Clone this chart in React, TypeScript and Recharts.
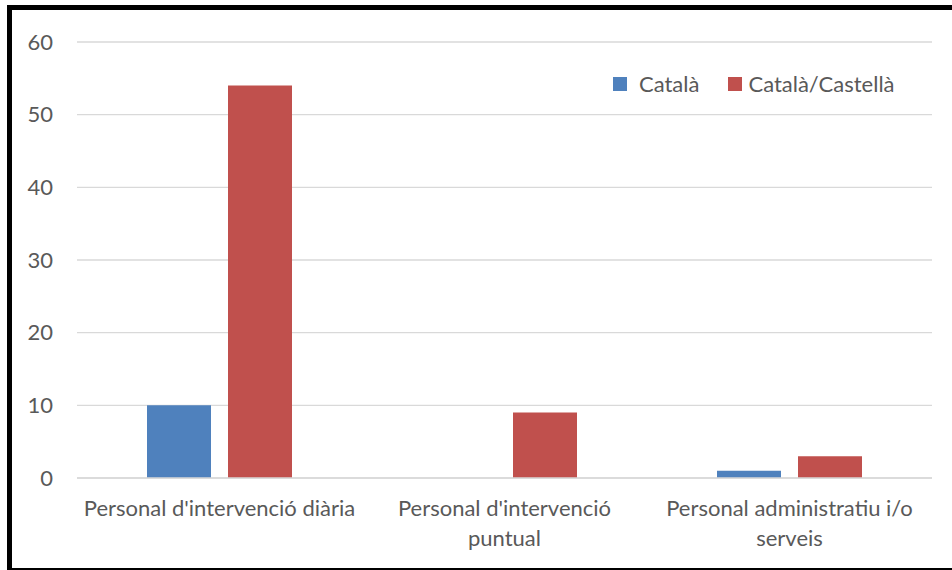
import React from "react";
import { BarChart, Bar, XAxis, YAxis, CartesianGrid } from "recharts";

/* ── Data ───────────────────────────────────────────────────────── */
const categories = [
  "Personal d'intervenció diària",
  "Personal d'intervenció puntual",
  "Personal administratiu i/o serveis",
];
const catala = [10, 0, 1];
const catalaCastella = [54, 9, 3];
const yTicks = [0, 10, 20, 30, 40, 50, 60];

const series = [
  { key: "catala", name: "Català", color: "#4F81BD" },
  { key: "catalaCastella", name: "Català/Castellà", color: "#C0504D" },
];

const data = categories.map((name, i) => ({
  name,
  catala: catala[i],
  catalaCastella: catalaCastella[i],
}));

/* ── Styles ─────────────────────────────────────────────────────── */
const FONT = "Lato, 'Open Sans', sans-serif";
const TEXT = "#595959";
const GRID = "#D9D9D9";
const FS = 22;
const MAX_CHARS = 29; // roughly what fits in one category band

function wrap(label: string) {
  const lines: string[] = [];
  let cur = "";
  for (const w of label.split(" ")) {
    const next = cur ? `${cur} ${w}` : w;
    if (cur && next.length > MAX_CHARS) {
      lines.push(cur);
      cur = w;
    } else cur = next;
  }
  if (cur) lines.push(cur);
  return lines;
}

function CategoryTick(props: any) {
  const { x, y, payload } = props;
  const lines = wrap(String(payload.value));
  return (
    <text x={x} y={y} textAnchor="middle" fill={TEXT} fontSize={FS} fontFamily={FONT}>
      {lines.map((l, i) => (
        <tspan key={i} x={x} dy={i === 0 ? 16 : 30}>{l}</tspan>
      ))}
    </text>
  );
}

function ChartLegend() {
  return (
    <div style={{
      position: "absolute", left: 613, top: 74, display: "flex", alignItems: "center",
      fontFamily: FONT, fontSize: FS, color: TEXT, lineHeight: "20px",
    }}>
      {series.map((s, i) => (
        <div key={s.key} style={{ display: "flex", alignItems: "center", marginRight: i === 0 ? 29 : 0 }}>
          <span style={{ display: "inline-block", width: 14, height: 14, background: s.color, marginRight: i === 0 ? 12 : 6 }} />
          <span>{s.name}</span>
        </div>
      ))}
    </div>
  );
}

export default function App() {
  return (
    <div style={{ position: "absolute", left: 0, top: 0, width: 952, height: 570, overflow: "hidden", background: "#fff" }}>
      <div style={{
        position: "absolute", left: 7, top: 5, width: 960, height: 565, boxSizing: "border-box",
        borderLeft: "5px solid #000", borderTop: "5px solid #000", borderBottom: "2px solid #000",
      }} />
      <div style={{ position: "absolute", left: 0, top: 0 }}>
        <BarChart width={952} height={570} data={data}
          margin={{ top: 42, right: 20, left: 0, bottom: 0 }}
          barSize={64} barGap={17}>
          <CartesianGrid vertical={false} stroke={GRID} strokeWidth={1.3} />
          <XAxis dataKey="name" height={92} axisLine={{ stroke: GRID, strokeWidth: 1.3 }} tickLine={false}
            tickSize={0} tickMargin={22} tick={<CategoryTick />} interval={0} />
          <YAxis domain={[0, 60]} ticks={yTicks} width={77} axisLine={false} tickLine={false}
            tickSize={0} tickMargin={24}
            tick={{ fill: TEXT, fontSize: FS, fontFamily: FONT }} />
          {series.map((s) => (
            <Bar key={s.key} dataKey={s.key} name={s.name} fill={s.color} isAnimationActive={false} />
          ))}
        </BarChart>
      </div>
      <ChartLegend />
    </div>
  );
}
